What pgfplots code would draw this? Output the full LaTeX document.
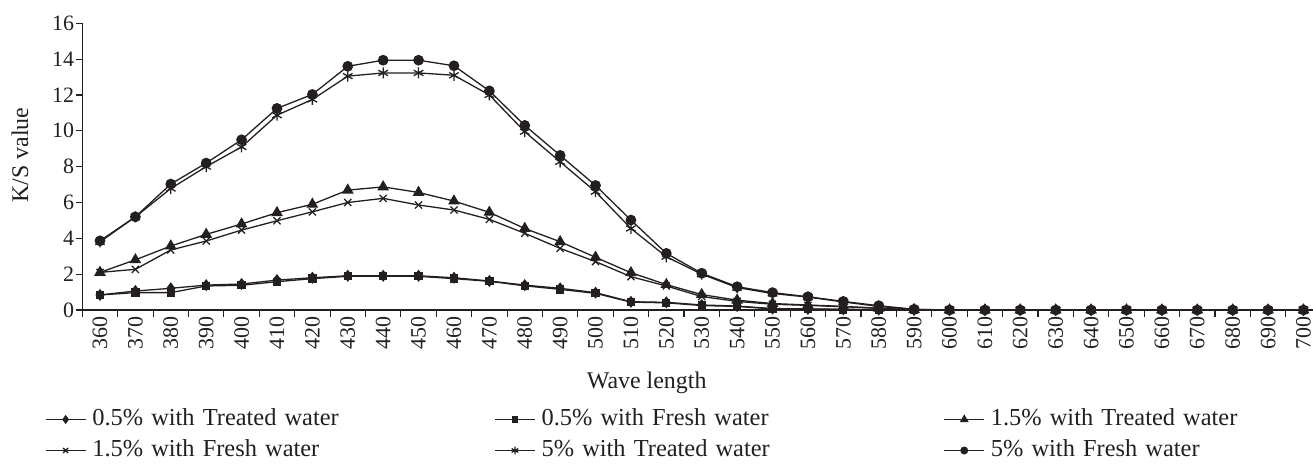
\documentclass[border=0pt]{standalone}
\usepackage{fontspec}
\setmainfont{Liberation Serif}
\usepackage{pgfplots}
\usepackage{pgfplotstable}
\pgfplotsset{compat=1.18}
\definecolor{ink}{HTML}{231F20}
\pgfplotstableread{
x   s1   s2   s3   s4   s5    s6
360 0.84 0.84 2.10 2.10 3.80  3.86
370 1.06 0.97 2.80 2.27 5.20  5.20
380 1.21 0.97 3.57 3.35 6.78  7.03
390 1.39 1.34 4.22 3.85 8.00  8.20
400 1.45 1.38 4.80 4.46 9.10  9.50
410 1.67 1.58 5.43 4.98 10.87 11.25
420 1.80 1.75 5.90 5.48 11.75 12.03
430 1.91 1.88 6.69 6.00 13.05 13.60
440 1.91 1.88 6.87 6.23 13.23 13.94
450 1.91 1.88 6.56 5.86 13.23 13.94
460 1.80 1.75 6.08 5.58 13.10 13.63
470 1.62 1.60 5.45 5.06 12.00 12.23
480 1.39 1.35 4.55 4.28 9.95  10.30
490 1.21 1.15 3.81 3.44 8.27  8.63
500 0.97 0.93 2.94 2.70 6.60  6.95
510 0.46 0.44 2.08 1.86 4.55  5.02
520 0.43 0.40 1.42 1.34 2.97  3.16
530 0.28 0.25 0.86 0.75 2.00  2.05
540 0.22 0.20 0.55 0.48 1.25  1.30
550 0.08 0.06 0.36 0.32 0.92  0.97
560 0.06 0.05 0.28 0.26 0.72  0.74
570 0.04 0.03 0.20 0.18 0.45  0.48
580 0.02 0.02 0.10 0.10 0.20  0.24
590 0.00 0.00 0.02 0.02 0.03  0.04
600 0 0 0 0 0 0
610 0 0 0 0 0 0
620 0 0 0 0 0 0
630 0 0 0 0 0 0
640 0 0 0 0 0 0
650 0 0 0 0 0 0
660 0 0 0 0 0 0
670 0 0 0 0 0 0
680 0 0 0 0 0 0
690 0 0 0 0 0 0
700 0 0 0 0 0 0
}\data
\begin{document}
\begin{tikzpicture}
\begin{axis}[
  at={(0,0)}, anchor=south west,
  scale only axis, width=1230.7bp, height=286.7bp,
  xmin=355, xmax=702.7, ymin=0, ymax=16,
  axis x line*=bottom, axis y line*=left,
  axis line style={ink, line width=1.2bp},
  tick style={ink, line width=1.1bp},
  tick align=outside,
  ytick={0,2,...,16},
  xtick={360,370,...,700},
  minor xtick={355,365,...,695},
  major x tick style={draw=none},
  minor tick length=7bp,
  major tick length=6bp,
  /pgf/number format/assume math mode=true,
  /pgf/number format/1000 sep={},
  ticklabel style={font=\fontsize{22}{22}\selectfont, text=ink},
  xticklabel style={rotate=90, anchor=east, inner sep=0pt},
  yticklabel style={anchor=east, inner sep=0pt, xshift=-2bp},
  xlabel={Wave length},
  ylabel={K/S value},
  label style={font=\fontsize{24}{24}\selectfont, text=ink},
  xlabel style={at={(axis description cs:0.4586,-0.255)}, anchor=center},
  ylabel style={at={(axis description cs:-0.0506,0.54)}, anchor=center, rotate=0},
  legend columns=3,
  legend cell align=left,
  legend style={draw=none, fill=none, at={(axis description cs:-0.0303,-0.3436)}, anchor=north west,
    inner sep=0pt, outer sep=0pt, font=\fontsize{24.5}{24.5}\selectfont, text=ink,
    nodes={text width=402bp, align=left, inner sep=0pt, text height=17bp, text depth=5bp},
    /tikz/every odd column/.append style={column sep=6bp},
    row sep=9bp},
  legend image code/.code={\draw[mark repeat=2,mark phase=2,#1] plot coordinates {(0bp,0bp)(20bp,0bp)(40bp,0bp)};},
  legend image post style={mark options={solid, fill=ink, scale=0.7}},
  every axis plot/.append style={ink, line width=1.3bp, mark options={solid, fill=ink}},
]
\addplot[mark=diamond*, mark size=5bp] table[x=x,y=s1]{\data};
\addlegendentry{0.5\% with Treated water}
\addplot[mark=square*, mark size=3.5bp] table[x=x,y=s2]{\data};
\addlegendentry{0.5\% with Fresh water}
\addplot[mark=triangle*, mark size=5.5bp] table[x=x,y=s3]{\data};
\addlegendentry{1.5\% with Treated water}
\addplot[mark=x, mark size=5bp] table[x=x,y=s4]{\data};
\addlegendentry{1.5\% with Fresh water}
\addplot[mark=asterisk, mark size=5.5bp] table[x=x,y=s5]{\data};
\addlegendentry{5\% with Treated water}
\addplot[mark=*, mark size=4.7bp] table[x=x,y=s6]{\data};
\addlegendentry{5\% with Fresh water}
\end{axis}
\pgfresetboundingbox
\path[use as bounding box] (-82.3bp,-155bp) rectangle (1230.7bp,310bp);
\end{tikzpicture}
\end{document}
